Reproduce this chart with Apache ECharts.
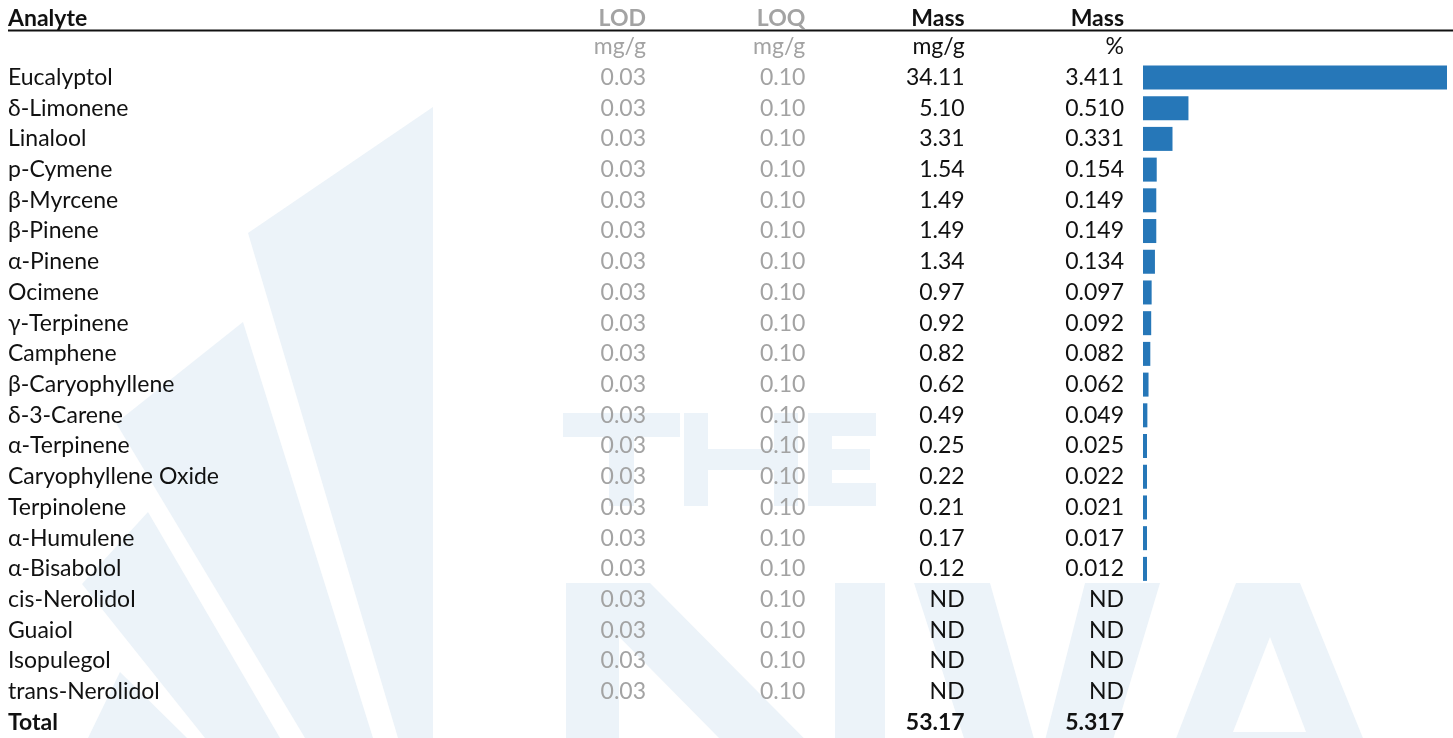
<!DOCTYPE html>
<html>
<head>
<meta charset="utf-8">
<style>
  html, body { margin: 0; padding: 0; background: #ffffff; }
  #chart { width: 1453px; height: 738px; }
</style>
<script src="https://cdn.jsdelivr.net/npm/echarts@6/dist/echarts.min.js"></script>
</head>
<body>
<div id="chart"></div>
<script>
// ---------------- data ----------------
const analytes = ['Eucalyptol','δ-Limonene','Linalool','p-Cymene','β-Myrcene','β-Pinene','α-Pinene','Ocimene','γ-Terpinene','Camphene','β-Caryophyllene','δ-3-Carene','α-Terpinene','Caryophyllene Oxide','Terpinolene','α-Humulene','α-Bisabolol','cis-Nerolidol','Guaiol','Isopulegol','trans-Nerolidol'];
const lod = [0.03,0.03,0.03,0.03,0.03,0.03,0.03,0.03,0.03,0.03,0.03,0.03,0.03,0.03,0.03,0.03,0.03,0.03,0.03,0.03,0.03];
const loq = [0.10,0.10,0.10,0.10,0.10,0.10,0.10,0.10,0.10,0.10,0.10,0.10,0.10,0.10,0.10,0.10,0.10,0.10,0.10,0.10,0.10];
const massMg = [34.11,5.10,3.31,1.54,1.49,1.49,1.34,0.97,0.92,0.82,0.62,0.49,0.25,0.22,0.21,0.17,0.12,null,null,null,null];
const massPct = [3.411,0.510,0.331,0.154,0.149,0.149,0.134,0.097,0.092,0.082,0.062,0.049,0.025,0.022,0.021,0.017,0.012,null,null,null,null];
const totalMg = 53.17;
const totalPct = 5.317;
const columnKeys = ['LOD','LOQ','MassMg','MassPct'];
const columnHeaders = ['LOD','LOQ','Mass','Mass'];
const columnUnits = ['mg/g','mg/g','mg/g','%'];
const firstHeader = 'Analyte';
const totalLabel = 'Total';

// ---------------- build ----------------
const FONT = 'Lato';
const FS = 23;
const GREY = '#a3a3a3';
const BLACK = '#111111';
const rows = [''].concat(analytes, [totalLabel]);
const cells = [];
const cellData = [];
function addCell(c, r, text, color, bold) {
  cells.push({ text: text, color: color, bold: !!bold });
  cellData.push([c, r]);
}
columnUnits.forEach((u, c) => addCell(c, 0, u, c < 2 ? GREY : BLACK));
analytes.forEach((a, i) => {
  const r = i + 1;
  addCell(0, r, lod[i].toFixed(2), GREY);
  addCell(1, r, loq[i].toFixed(2), GREY);
  addCell(2, r, massMg[i] == null ? 'ND' : massMg[i].toFixed(2), BLACK);
  addCell(3, r, massPct[i] == null ? 'ND' : massPct[i].toFixed(3), BLACK);
});
addCell(2, rows.length - 1, totalMg.toFixed(2), BLACK, true);
addCell(3, rows.length - 1, totalPct.toFixed(3), BLACK, true);

const barData = [null].concat(massPct, [null]);

const GRID_TOP = 31.4, GRID_H = 706.4;
const WM = '#ecf3f9';

// watermark shapes (decoration only)
const wmPolys = [
  [[433,107],[248,233],[398,738],[433,738]],
  [[243,322],[116,423],[305,738],[373,738]],
  [[148,512],[82,584],[205,738],[280,738]],
  [[120,672],[88,738],[187,738]],
  // N
  [[566,583],[619,583],[619,760],[566,760]],
  [[835,583],[885,583],[885,760],[835,760]],
  [[566,583],[650,583],[885,820],[800,820]],
  // V
  [[914,583],[990,583],[1040,760],[1085,583],[1160,583],[1080,850],[1000,850]],
  // A
  [[1236,583],[1300,583],[1380,780],[1160,780]],
  // T
  [[563,413],[680,413],[680,437],[563,437]],
  [[609,413],[634,413],[634,506],[609,506]],
  // H
  [[684,413],[708,413],[708,506],[684,506]],
  [[774,413],[798,413],[798,506],[774,506]],
  [[684,449],[798,449],[798,470],[684,470]],
  // E
  [[808,413],[832,413],[832,506],[808,506]],
  [[808,413],[876,413],[876,436],[808,436]],
  [[808,449],[870,449],[870,470],[808,470]],
  [[808,483],[876,483],[876,506],[808,506]]
];
const graphics = wmPolys.map(p => ({
  type: 'polygon', silent: true, z: -10,
  shape: { points: p }, style: { fill: WM }
}));
graphics.push({
  type: 'polygon', silent: true, z: -9,
  shape: { points: [[1270,637],[1233,732],[1306,732]] }, style: { fill: '#ffffff' }
});
graphics.push({
  type: 'text', x: 8, y: 18.5, z: 5,
  style: { text: firstHeader, fill: BLACK, font: 'bold ' + FS + 'px ' + FONT, verticalAlign: 'middle', align: 'left' }
});
graphics.push({
  type: 'line', z: 5, silent: true,
  shape: { x1: 8, y1: 30.5, x2: 1453, y2: 30.5 },
  style: { stroke: '#111111', lineWidth: 2 }
});

const chart = echarts.init(document.getElementById('chart'));
chart.setOption({
  backgroundColor: '#ffffff',
  animation: false,
  graphic: graphics,
  grid: [
    { left: 646, width: 478, top: GRID_TOP, height: GRID_H },
    { left: 1143, width: 304, top: GRID_TOP, height: GRID_H }
  ],
  xAxis: [
    {
      gridIndex: 0, type: 'category', data: columnKeys, position: 'top', boundaryGap: false,
      axisLine: { show: false }, axisTick: { show: false }, splitLine: { show: false },
      axisLabel: {
        show: true, interval: 0, align: 'right', verticalAlign: 'middle', margin: 12.9,
        formatter: (v, i) => (i < 2 ? '{g|' : '{b|') + columnHeaders[i] + '}',
        rich: {
          g: { color: GREY, fontFamily: FONT, fontSize: FS, fontWeight: 'bold' },
          b: { color: BLACK, fontFamily: FONT, fontSize: FS, fontWeight: 'bold' }
        }
      }
    },
    { gridIndex: 1, type: 'value', min: 0, max: 3.411, show: false }
  ],
  yAxis: [
    {
      gridIndex: 0, type: 'category', data: rows, inverse: true,
      axisLine: { show: false }, axisTick: { show: false }, splitLine: { show: false },
      axisLabel: {
        interval: 0, align: 'left', margin: 638,
        formatter: (v, i) => (i === rows.length - 1 ? '{b|' + v + '}' : '{n|' + v + '}'),
        rich: {
          n: { color: BLACK, fontFamily: FONT, fontSize: FS },
          b: { color: BLACK, fontFamily: FONT, fontSize: FS, fontWeight: 'bold' }
        }
      }
    },
    { gridIndex: 1, type: 'category', data: rows, inverse: true, show: false }
  ],
  series: [
    {
      type: 'custom', xAxisIndex: 0, yAxisIndex: 0, silent: true,
      data: cellData,
      encode: { x: 0, y: 1 },
      renderItem: function (params, api) {
        const cell = cells[params.dataIndex];
        const p = api.coord([api.value(0), api.value(1)]);
        return {
          type: 'text', x: p[0], y: p[1],
          style: {
            text: cell.text, fill: cell.color,
            font: (cell.bold ? 'bold ' : '') + FS + 'px ' + FONT,
            align: 'right', verticalAlign: 'middle'
          }
        };
      }
    },
    {
      type: 'bar', xAxisIndex: 1, yAxisIndex: 1, silent: true,
      data: barData, barWidth: 24, barMinHeight: 4,
      itemStyle: { color: '#2677b8' }
    }
  ]
});
</script>
</body>
</html>
